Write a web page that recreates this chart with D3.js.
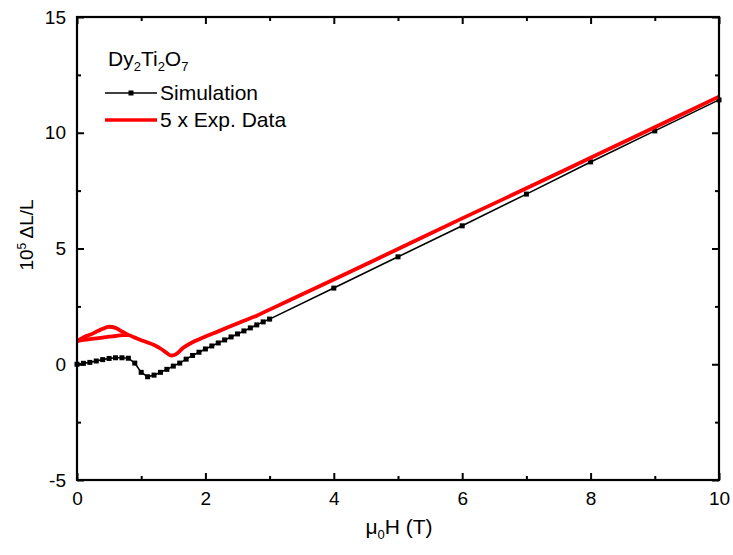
<!DOCTYPE html>
<html>
<head>
<meta charset="utf-8">
<script src="https://cdn.jsdelivr.net/npm/d3@7"></script>
<style>
  html, body { margin: 0; padding: 0; background: #fff; }
  svg { display: block; }
  text { font-family: "Liberation Sans", Arial, sans-serif; fill: #000; }
</style>
</head>
<body>
<svg id="chart" width="733" height="555"></svg>
<script>
// ---- Data ----
const simH = [0,0.1,0.2,0.3,0.4,0.5,0.6,0.7,0.8,0.9,1.0,1.1,1.2,1.3,1.4,1.5,1.6,1.7,1.8,1.9,2.0,2.1,2.2,2.3,2.4,2.5,2.6,2.7,2.8,2.9,3.0,4,5,6,7,8,9,10];
const simV = [0,0.04,0.08,0.14,0.2,0.25,0.28,0.28,0.26,0.05,-0.35,-0.54,-0.47,-0.35,-0.22,-0.08,0.05,0.22,0.38,0.52,0.66,0.79,0.92,1.05,1.18,1.31,1.44,1.57,1.7,1.83,1.95,3.29,4.64,5.98,7.35,8.74,10.08,11.42];

// Exp. data x5 : sweep branch through whole range
const expH = [0,0.1,0.2,0.3,0.4,0.5,0.6,0.7,0.8,0.9,1.0,1.1,1.2,1.3,1.4,1.47,1.55,1.65,1.8,2.0,2.2,2.4,2.6,2.8,3.0,4,5,6,7,8,9,10];
const expV = [1.0,1.05,1.09,1.12,1.15,1.19,1.22,1.26,1.26,1.15,1.04,0.94,0.83,0.68,0.48,0.37,0.45,0.7,0.95,1.2,1.42,1.65,1.88,2.1,2.36,3.66,4.98,6.3,7.6,8.92,10.24,11.56];
// Exp. data x5 : other branch of the low-field loop
const loopH = [0,0.1,0.2,0.3,0.4,0.5,0.6,0.7,0.8];
const loopV = [1.0,1.16,1.27,1.4,1.53,1.62,1.57,1.42,1.26];

const xTicks = [0,2,4,6,8,10];
const xMinor = [1,3,5,7,9];
const yTicks = [-5,0,5,10,15];
const yMinor = [-2.5,2.5,7.5,12.5];

// ---- Layout ----
const L = 77, R = 719, T = 17, B = 480;
const svg = d3.select("#chart");
const x = d3.scaleLinear().domain([0,10]).range([L,R]);
const y = d3.scaleLinear().domain([-5,15]).range([B,T]);

// ---- Data marks ----
const line = d3.line().x(d => x(d[0])).y(d => y(d[1]));
const simPts = simH.map((h,i) => [h, simV[i]]);
const expPts = expH.map((h,i) => [h, expV[i]]);
const loopPts = loopH.map((h,i) => [h, loopV[i]]);

svg.append("path").datum(simPts).attr("d", line)
  .attr("fill","none").attr("stroke","#000").attr("stroke-width",1.6);
svg.selectAll("rect.sim").data(simPts).enter().append("rect")
  .attr("class","sim")
  .attr("x", d => x(d[0]) - 2.5).attr("y", d => y(d[1]) - 2.5)
  .attr("width",5).attr("height",5).attr("fill","#000");

const smooth = d3.line().x(d => x(d[0])).y(d => y(d[1])).curve(d3.curveMonotoneX);
svg.append("path").datum(expPts).attr("d", smooth)
  .attr("fill","none").attr("stroke","#ff0000").attr("stroke-width",3.8).attr("stroke-linejoin","round");
svg.append("path").datum(loopPts).attr("d", smooth)
  .attr("fill","none").attr("stroke","#ff0000").attr("stroke-width",3.8).attr("stroke-linejoin","round");

// ---- Axes ----
function styleAxis(g){
  g.select(".domain").remove();
  g.selectAll(".tick line").attr("stroke","#000").attr("stroke-width",2);
  g.selectAll(".tick text").style("font-family","'Liberation Sans', Arial, sans-serif").style("font-size","19px").attr("fill","#000");
}
const fmt = d => d < 0 ? "-" + Math.abs(d) : String(d);

svg.append("g").attr("transform",`translate(0,${B})`)
  .call(d3.axisBottom(x).tickValues(xTicks).tickSize(-7).tickPadding(12).tickFormat(fmt)).call(styleAxis);
svg.append("g").attr("transform",`translate(0,${B})`)
  .call(d3.axisBottom(x).tickValues(xMinor).tickSize(-4).tickFormat("")).call(styleAxis);
svg.append("g").attr("transform",`translate(0,${T})`)
  .call(d3.axisTop(x).tickValues(xTicks).tickSize(-7).tickFormat("")).call(styleAxis);
svg.append("g").attr("transform",`translate(0,${T})`)
  .call(d3.axisTop(x).tickValues(xMinor).tickSize(-4).tickFormat("")).call(styleAxis);

svg.append("g").attr("transform",`translate(${L},0)`)
  .call(d3.axisLeft(y).tickValues(yTicks).tickSize(-7).tickPadding(11).tickFormat(fmt)).call(styleAxis);
svg.append("g").attr("transform",`translate(${L},0)`)
  .call(d3.axisLeft(y).tickValues(yMinor).tickSize(-4).tickFormat("")).call(styleAxis);
svg.append("g").attr("transform",`translate(${R},0)`)
  .call(d3.axisRight(y).tickValues(yTicks).tickSize(-7).tickFormat("")).call(styleAxis);
svg.append("g").attr("transform",`translate(${R},0)`)
  .call(d3.axisRight(y).tickValues(yMinor).tickSize(-4).tickFormat("")).call(styleAxis);

svg.append("rect").attr("x",L).attr("y",T).attr("width",R-L).attr("height",B-T)
  .attr("fill","none").attr("stroke","#000").attr("stroke-width",2.2);

// ---- Axis titles ----
const xt = svg.append("text").attr("x",399).attr("y",534).attr("text-anchor","middle").style("font-size","21px");
xt.append("tspan").text("μ");
xt.append("tspan").attr("dy",5).style("font-size","13px").text("0");
xt.append("tspan").attr("dy",-5).text("H (T)");

const yt = svg.append("text").attr("transform","translate(33,235) rotate(-90)").attr("text-anchor","middle").style("font-size","19px");
yt.append("tspan").text("10");
yt.append("tspan").attr("dy",-7).style("font-size","12px").text("5");
yt.append("tspan").attr("dy",7).text(" ΔL/L");

// ---- Legend ----
const lg = svg.append("text").attr("x",108).attr("y",66).style("font-size","21px");
lg.append("tspan").text("Dy");
lg.append("tspan").attr("dy",5).style("font-size","13px").text("2");
lg.append("tspan").attr("dy",-5).text("Ti");
lg.append("tspan").attr("dy",5).style("font-size","13px").text("2");
lg.append("tspan").attr("dy",-5).text("O");
lg.append("tspan").attr("dy",5).style("font-size","13px").text("7");

svg.append("line").attr("x1",105).attr("x2",157).attr("y1",93).attr("y2",93).attr("stroke","#000").attr("stroke-width",1.6);
svg.append("rect").attr("x",131-2.5).attr("y",93-2.5).attr("width",5).attr("height",5).attr("fill","#000");
svg.append("text").attr("x",160).attr("y",99.5).style("font-size","21px").text("Simulation");

svg.append("line").attr("x1",105).attr("x2",157).attr("y1",120).attr("y2",120).attr("stroke","#ff0000").attr("stroke-width",3.4);
svg.append("text").attr("x",160).attr("y",126.5).style("font-size","21px").text("5 x Exp. Data");
</script>
</body>
</html>
